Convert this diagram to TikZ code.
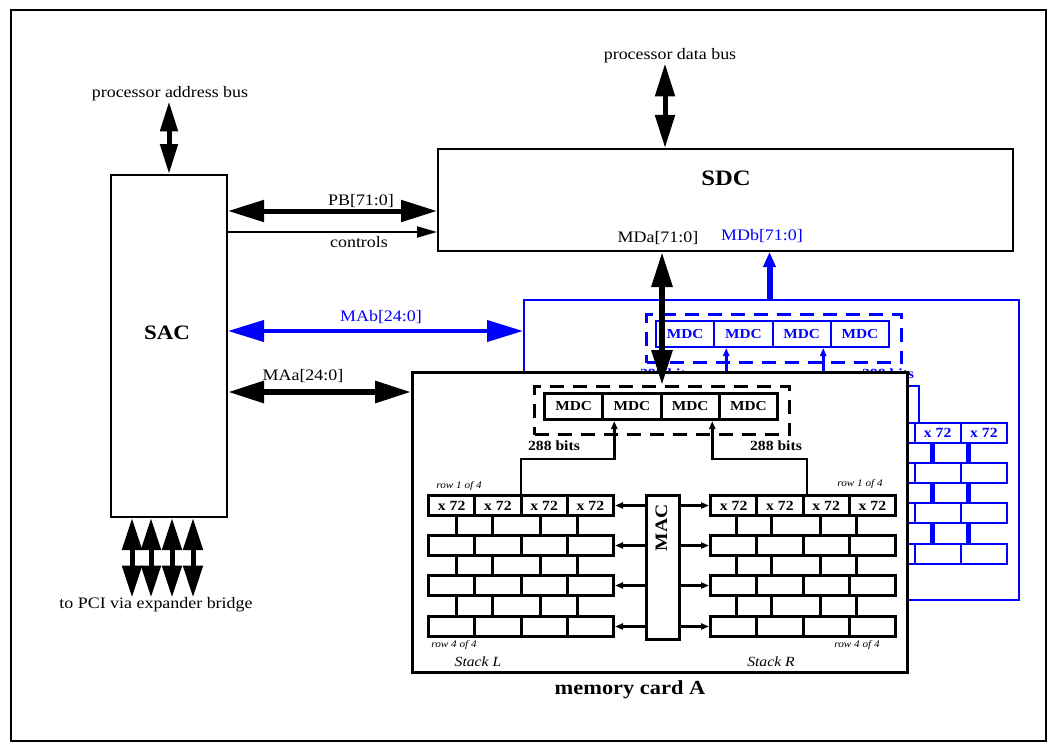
\documentclass[tikz,border=0pt]{standalone}
\usepackage{fontspec}
\setmainfont[FakeStretch=1.12]{Liberation Serif}
\usetikzlibrary{arrows.meta,calc}
\definecolor{bblue}{RGB}{0,0,255}
\tikzset{
 lbl/.style={inner sep=0, font=\fontsize{16}{18}\selectfont},
 bigbold/.style={inner sep=0, font=\bfseries\fontsize{20.5}{22}\selectfont},
 smallit/.style={inner sep=0, font=\itshape\fontsize{10}{11}\selectfont},
 stackit/.style={inner sep=0, font=\itshape\fontsize{14}{15}\selectfont},
 box/.style={draw, line width=2pt, inner sep=0, anchor=north west},
 bigarrow/.style={line width=5pt, {Triangle[length=36pt,width=21pt]}-{Triangle[length=36pt,width=21pt]}},
 busarrow/.style={line width=5pt, {Triangle[length=30pt,width=17pt]}-{Triangle[length=30pt,width=17pt]}},
 databus/.style={line width=5pt, {Triangle[length=33pt,width=19pt]}-{Triangle[length=33pt,width=19pt]}},
 pciarrow/.style={line width=5pt, {Triangle[length=32pt,width=19pt]}-{Triangle[length=32pt,width=19pt]}},
 ctrlarrow/.style={line width=2pt, -{Triangle[length=20pt,width=11pt]}},
 smallarrow/.style={line width=2.5pt, -{Triangle[length=8pt,width=6pt]}},
 cellst/.style 2 args={draw=#1, text=#1, line width=#2, minimum width=46.25, minimum height=20, anchor=north west, inner sep=0, font=\bfseries\fontsize{14}{15}\selectfont},
 mdcst/.style 2 args={draw=#1, text=#1, line width=#2, minimum width=58.25, minimum height=26, anchor=north west, inner sep=0, font=\bfseries\fontsize{13.7}{15}\selectfont},
}
% #1 prefix, #2 colour, #3 shift, #4 border width, #5 cell width, #6 stub width
\newcommand\memcard[6]{%
\begin{scope}[shift={#3}, name prefix=#1-]
 \node[draw=#2, fill=white, line width=#4, minimum width=495, minimum height=300, anchor=north west, inner sep=0] (card) at (411,371) {};
 \node[draw=#2, line width=3pt, dash pattern=on 14pt off 9pt, minimum width=255, minimum height=48, anchor=north west, inner sep=0] (dash) at (533,385) {};
 \foreach \c in {1,...,4} \node[mdcst={#2}{#5}] (MDC\c) at ({543+58.25*(\c-1)},392) {MDC};
 \foreach \r/\y in {1/494,2/534,3/574,4/615} {
   \foreach \c in {0,...,3} {
     \node[cellst={#2}{#5}] (L\r\c) at ({427+46.25*\c},\y) {\ifnum\r=1 x 72\fi};
     \node[cellst={#2}{#5}] (R\r\c) at ({709+46.25*\c},\y) {\ifnum\r=1 x 72\fi};
   }
 }
 \foreach \x in {456,492,540,577,736,771,820,856}
   \foreach \ya/\yb in {514/534,554/574,594/615}
     \draw[#2, line width=#6] (\x,\ya) -- (\x,\yb);
 \node[draw=#2, line width=#5, minimum width=33, minimum height=144, anchor=north west, inner sep=0] (mac) at (645,494) {};
 \node[rotate=90, text=#2, inner sep=0, font=\bfseries\fontsize{17.5}{18}\selectfont] (mactxt) at (661.5,528) {MAC};
 \foreach \r in {1,...,4} {
   \draw[smallarrow, #2] (mac.west |- L\r3.east) -- (L\r3.east);
   \draw[smallarrow, #2] (mac.east |- R\r0.west) -- (R\r0.west);
 }
 \draw[smallarrow, #2] ($(L12.north west)+(1.5,0)$) |- ($(MDC2.south west)+(13,38)$) -- ($(MDC2.south west)+(13,0)$);
 \draw[smallarrow, #2] ($(R12.north west)+(5.5,0)$) |- ($(MDC3.south east)+(-8.5,38)$) -- ($(MDC3.south east)+(-8.5,0)$);
 \node[text=#2, inner sep=0, font=\bfseries\fontsize{14}{16}\selectfont] (bitsL) at (554,446) {288 bits};
 \node[text=#2, inner sep=0, font=\bfseries\fontsize{14}{16}\selectfont] (bitsR) at (776,446) {288 bits};
\end{scope}}
\begin{document}
\begin{tikzpicture}[x=1pt, y=-1pt]
\useasboundingbox (0,0) rectangle (1054,749);
\node[draw, line width=2pt, minimum width=1035, minimum height=730, anchor=north west, inner sep=0] (frame) at (9.5,9.5) {};

% memory card B (behind) and memory card A
\memcard{B}{bblue}{(112,-72)}{2pt}{2pt}{5pt}
\memcard{A}{black}{(0,0)}{3pt}{3pt}{3pt}

\node[smallit] (r1L) at (459,486) {row 1 of 4};
\node[smallit] (r4L) at (454,645) {row 4 of 4};
\node[stackit] (stL) at (478,662) {Stack L};
\node[smallit] (r1R) at (860,484) {row 1 of 4};
\node[smallit] (r4R) at (857,645) {row 4 of 4};
\node[stackit] (stR) at (771,662) {Stack R};
\node[bigbold, font=\bfseries\fontsize{20}{22}\selectfont] (cardA) at (630,690) {memory card A};

% SAC and SDC
\node[box, minimum width=116, minimum height=342] (SAC) at (110,174) {};
\node[bigbold] (SACt) at (167,333) {SAC};
\node[box, minimum width=575, minimum height=102] (SDC) at (437,148) {};
\node[bigbold, font=\bfseries\fontsize{22}{24}\selectfont] (SDCt) at (726,178) {SDC};
\node[lbl] (MDa) at (658,238) {MDa[71:0]};
\node[lbl, text=bblue] (MDb) at (762,236) {MDb[71:0]};

% processor buses
\node[lbl] (paddr) at (170,94) {processor address bus};
\draw[busarrow] (SAC.north |- paddr.south) -- (SAC.north);
\node[lbl] (pdata) at (670,56) {processor data bus};
\coordinate (pdx) at ($(SDC.north west)+(228,0)$);
\draw[databus] (pdx |- pdata.south) -- (pdx);

% PB and controls
\coordinate (pby) at (0,211);
\coordinate (cty) at (0,232);
\draw[bigarrow] (SAC.east |- pby) -- (SDC.west |- pby);
\node[lbl] (PB) at (361,201) {PB[71:0]};
\draw[ctrlarrow] (SAC.east |- cty) -- (SDC.west |- cty);
\node[lbl] (ctl) at (359,242) {controls};

% MAb and MAa
\coordinate (mby) at (0,331);
\coordinate (may) at (0,392);
\draw[bigarrow, bblue, line width=4pt] (SAC.east |- mby) -- (B-card.west |- mby);
\node[lbl, text=bblue] (MAb) at (381,317) {MAb[24:0]};
\draw[bigarrow, line width=6pt] (SAC.east |- may) -- (A-card.west |- may);
\node[lbl] (MAa) at (303,376) {MAa[24:0]};

% MDa and MDb
\draw[line width=6pt, {Triangle[length=35pt,width=20pt]}-{Triangle[length=35pt,width=20pt]}] (A-dash.north |- SDC.south) -- (A-dash.north);
\coordinate (mdbx) at ($(B-card.north)+(-2,0)$);
\draw[bblue, line width=6pt, -{Triangle[length=15pt,width=12pt]}] (mdbx) -- (mdbx |- SDC.south);

% PCI
\node[lbl] (pci) at (156,605) {to PCI via expander bridge};
\foreach \x in {132,151,172,193}
  \draw[pciarrow] (\x,0 |- SAC.south) -- (\x,0 |- pci.north);
\end{tikzpicture}
\end{document}
